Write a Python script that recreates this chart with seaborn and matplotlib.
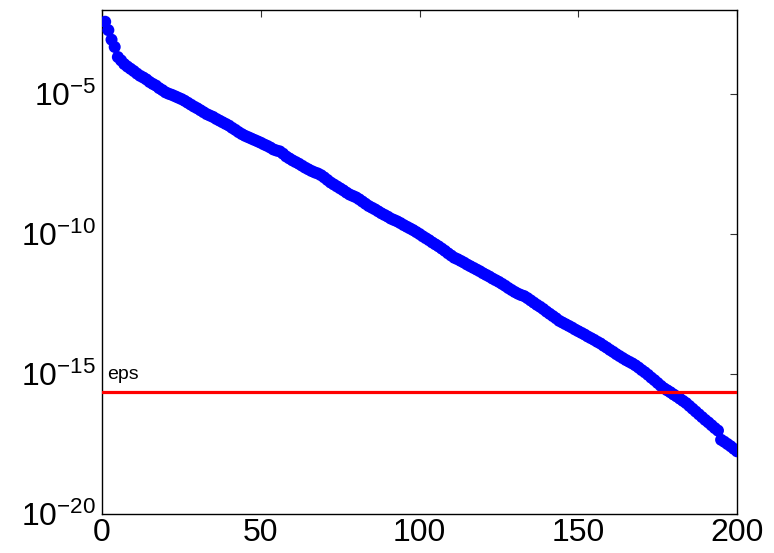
import numpy as np
import pandas as pd
import matplotlib
matplotlib.use("Agg")
import matplotlib.pyplot as plt
import seaborn as sns
from matplotlib.ticker import LogFormatterMathtext, NullLocator

# index of singular value
index = list(range(1, 201))

# log10 of the plotted values
log10_values = [
    -2.42, -2.72, -3.06, -3.32, -3.68, -3.80, -3.93, -4.02, -4.10, -4.18,
    -4.27, -4.35, -4.41, -4.48, -4.57, -4.64, -4.70, -4.79, -4.86, -4.94,
    -4.99, -5.03, -5.08, -5.13, -5.18, -5.24, -5.31, -5.38, -5.45, -5.51,
    -5.58, -5.65, -5.72, -5.77, -5.82, -5.89, -5.95, -6.01, -6.07, -6.13,
    -6.21, -6.28, -6.36, -6.43, -6.49, -6.54, -6.59, -6.64, -6.69, -6.74,
    -6.80, -6.85, -6.91, -6.98, -7.02, -7.05, -7.13, -7.23, -7.30, -7.37,
    -7.43, -7.49, -7.56, -7.63, -7.69, -7.75, -7.80, -7.84, -7.90, -7.98,
    -8.07, -8.16, -8.23, -8.30, -8.37, -8.44, -8.52, -8.59, -8.64, -8.69,
    -8.76, -8.84, -8.92, -9.00, -9.06, -9.12, -9.19, -9.26, -9.32, -9.38,
    -9.45, -9.50, -9.55, -9.61, -9.68, -9.74, -9.80, -9.86, -9.93, -10.00,
    -10.08, -10.15, -10.22, -10.30, -10.37, -10.44, -10.52, -10.60, -10.69, -10.77,
    -10.85, -10.90, -10.96, -11.02, -11.09, -11.15, -11.21, -11.27, -11.33, -11.40,
    -11.46, -11.52, -11.59, -11.65, -11.71, -11.78, -11.85, -11.93, -12.00, -12.07,
    -12.13, -12.18, -12.22, -12.29, -12.37, -12.45, -12.53, -12.60, -12.68, -12.77,
    -12.85, -12.93, -13.01, -13.10, -13.16, -13.22, -13.28, -13.34, -13.41, -13.47,
    -13.53, -13.59, -13.66, -13.72, -13.78, -13.85, -13.91, -13.99, -14.06, -14.14,
    -14.21, -14.29, -14.36, -14.43, -14.50, -14.56, -14.62, -14.69, -14.77, -14.86,
    -14.94, -15.03, -15.13, -15.22, -15.32, -15.42, -15.51, -15.58, -15.65, -15.73,
    -15.80, -15.88, -15.96, -16.04, -16.14, -16.24, -16.34, -16.44, -16.54, -16.64,
    -16.73, -16.83, -16.93, -17.02, -17.35, -17.42, -17.50, -17.58, -17.67, -17.76,
]

eps_value = 2.220446049250313e-16
eps_label = "eps"

x_ticks = [0, 50, 100, 150, 200]
y_ticks = [1e-20, 1e-15, 1e-10, 1e-5]

df = pd.DataFrame({"index": index, "value": np.power(10.0, log10_values)})

sns.set_style("white")
plt.rcParams["font.family"] = ["Liberation Sans", "DejaVu Sans"]
plt.rcParams["mathtext.fontset"] = "custom"
plt.rcParams["mathtext.rm"] = "Liberation Sans"
plt.rcParams["mathtext.it"] = "Liberation Sans:italic"
plt.rcParams["mathtext.bf"] = "Liberation Sans:bold"
plt.rcParams["text.color"] = "black"
plt.rcParams["xtick.color"] = "black"
plt.rcParams["ytick.color"] = "black"
plt.rcParams["axes.labelcolor"] = "black"

fig = plt.figure(figsize=(7.74, 5.53), dpi=100)
ax = fig.add_axes([102 / 774, 1 - 514 / 553, 635 / 774, 504 / 553])

sns.scatterplot(data=df, x="index", y="value", ax=ax, color="#0000ff",
                s=75, edgecolor="none", linewidth=0, legend=False, zorder=3)
ax.axhline(eps_value, color="#ff0000", linewidth=2.3, zorder=4)
ax.text(1.6, 6.8e-16, eps_label, fontsize=14, ha="left", va="baseline",
        color="black")

ax.set_yscale("log")
ax.set_xlim(0, 200)
ax.set_ylim(1e-20, 1e-2)
ax.set_xticks(x_ticks)
ax.set_yticks(y_ticks)
ax.yaxis.set_major_formatter(LogFormatterMathtext())
ax.yaxis.set_minor_locator(NullLocator())
ax.set_xlabel("")
ax.set_ylabel("")

ax.tick_params(axis="both", which="major", direction="in", length=5, width=0.8,
               labelsize=23, top=True, right=True, color="#333333",
               labelcolor="black")
ax.tick_params(axis="x", pad=3)
ax.tick_params(axis="y", pad=4)
for sp in ax.spines.values():
    sp.set_visible(True)
    sp.set_color("black")
    sp.set_linewidth(1.0)

fig.savefig("out.png", dpi=100)
